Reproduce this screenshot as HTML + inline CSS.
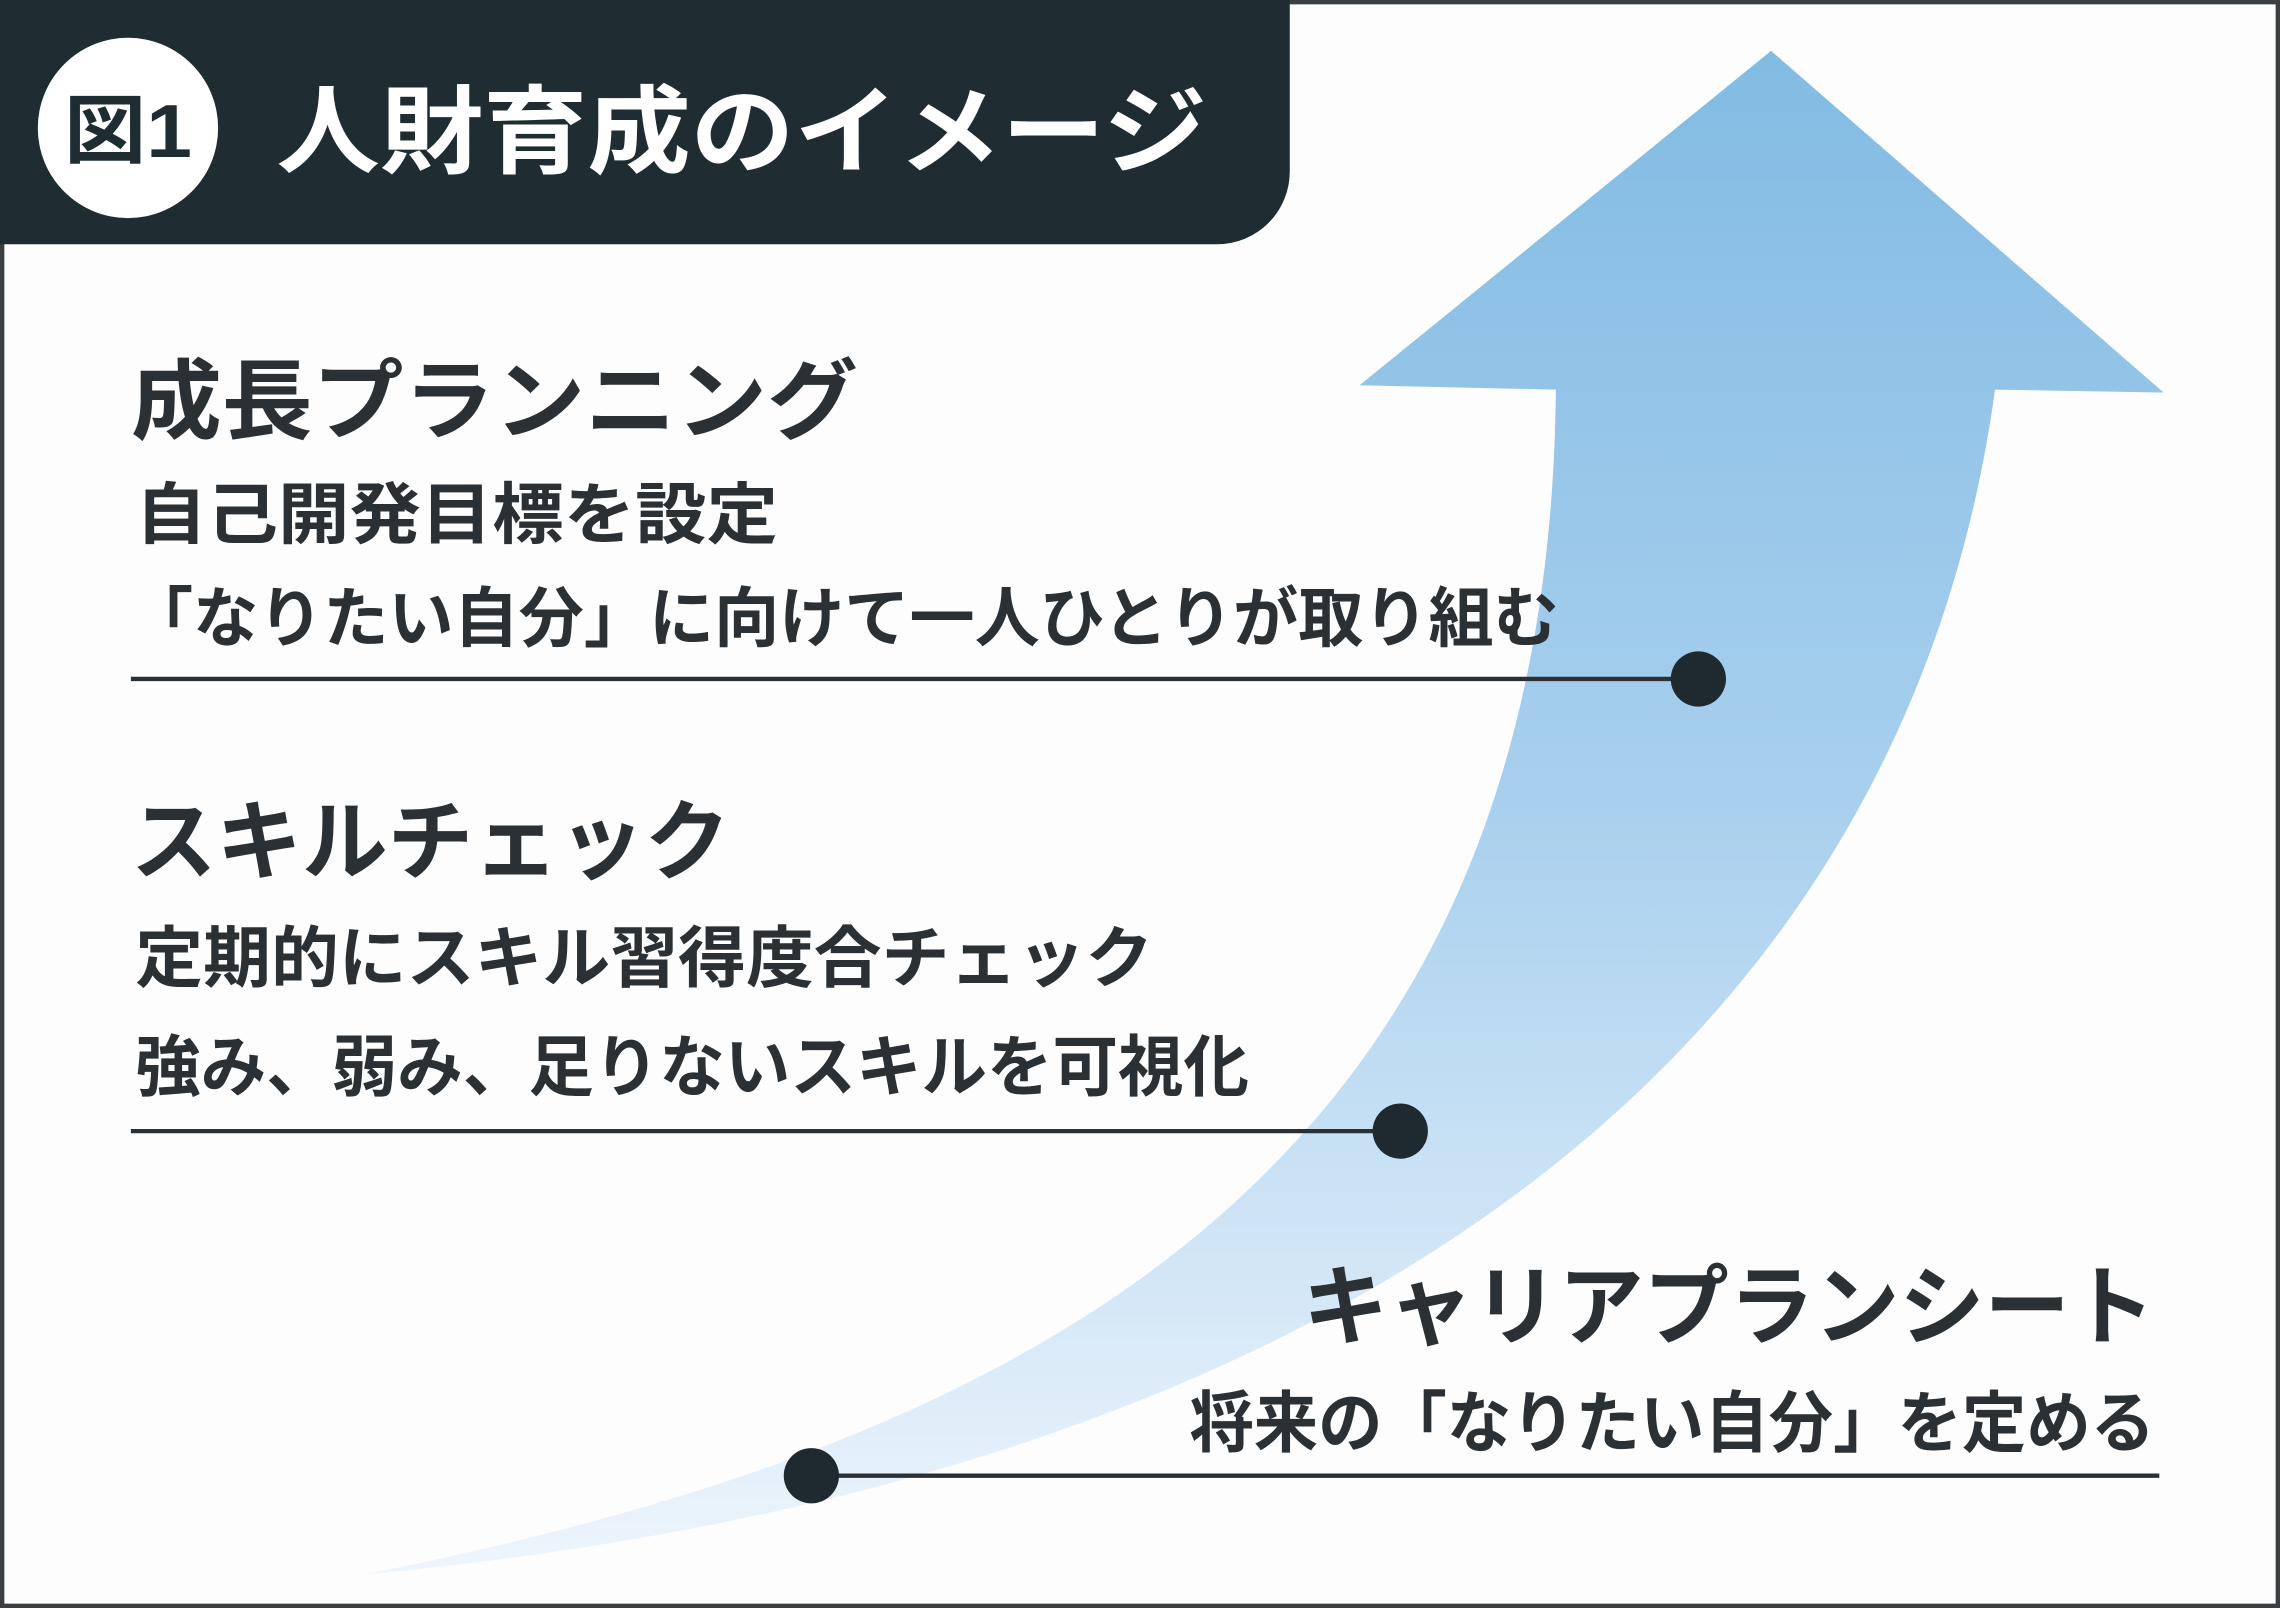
<!DOCTYPE html>
<html><head><meta charset="utf-8"><style>
html,body{margin:0;padding:0;background:#fff;}
svg{display:block;}
text{font-family:"Liberation Sans","Noto Sans CJK JP",sans-serif;font-weight:700;}
</style></head><body>
<svg width="2280" height="1608" viewBox="0 0 1568 1106" preserveAspectRatio="none" xmlns="http://www.w3.org/2000/svg">
<defs>
<linearGradient id="g" x1="0" y1="0" x2="0" y2="1">
<stop offset="0" stop-color="#82bbe3"/>
<stop offset="0.5" stop-color="#a9d0ee"/>
<stop offset="1" stop-color="#eef5fc"/>
</linearGradient>
</defs>
<rect x="0" y="0" width="1568" height="1106" fill="#fdfdfd"/>
<rect x="1.5" y="1.5" width="1565" height="1103" fill="none" stroke="#3a3f42" stroke-width="3"/>
<path d="M250,1083 C720,990 1065,800 1070,268 L935,265 L1218,35 L1488,270 L1372,268 C1310,720 930,1020 250,1083 Z" fill="url(#g)"/>
<path d="M0,0 H887 V118 A50,50 0 0 1 837,168 H0 Z" fill="#1f2d33"/>
<circle cx="88" cy="88" r="62" fill="#fff"/>
<text x="88" y="108" font-size="52" fill="#1f2d33" text-anchor="middle" textLength="88" lengthAdjust="spacingAndGlyphs">図1</text>
<text x="190" y="114" font-size="66" fill="#fff" textLength="640" lengthAdjust="spacingAndGlyphs">人財育成のイメージ</text>
<g fill="#2b3034">
<text x="90" y="297" font-size="60" textLength="500" lengthAdjust="spacingAndGlyphs">成長プランニング</text>
<text x="93" y="370" font-size="46" textLength="442" lengthAdjust="spacingAndGlyphs">自己開発目標を設定</text>
<text x="88" y="441" font-size="45" textLength="984" lengthAdjust="spacingAndGlyphs">「なりたい自分」に向けて一人ひとりが取り組む</text>
<text x="90" y="600" font-size="60" textLength="412" lengthAdjust="spacingAndGlyphs">スキルチェック</text>
<text x="93" y="675" font-size="46" textLength="700" lengthAdjust="spacingAndGlyphs">定期的にスキル習得度合チェック</text>
<text x="93" y="750" font-size="46" textLength="766" lengthAdjust="spacingAndGlyphs">強み、弱み、足りないスキルを可視化</text>
<text x="1482" y="920" font-size="60" text-anchor="end" textLength="586" lengthAdjust="spacingAndGlyphs">キャリアプランシート</text>
<text x="1482" y="995" font-size="46" text-anchor="end" textLength="664" lengthAdjust="spacingAndGlyphs">将来の「なりたい自分」を定める</text>
</g>
<g stroke="#2b3034" stroke-width="3">
<line x1="90" y1="467" x2="1168" y2="467"/>
<line x1="90" y1="778" x2="963" y2="778"/>
<line x1="558" y1="1015" x2="1485" y2="1015"/>
</g>
<g fill="#1f2a30">
<circle cx="1168" cy="467" r="19"/>
<circle cx="963" cy="778" r="19"/>
<circle cx="558" cy="1015" r="19"/>
</g>
</svg>
</body></html>
